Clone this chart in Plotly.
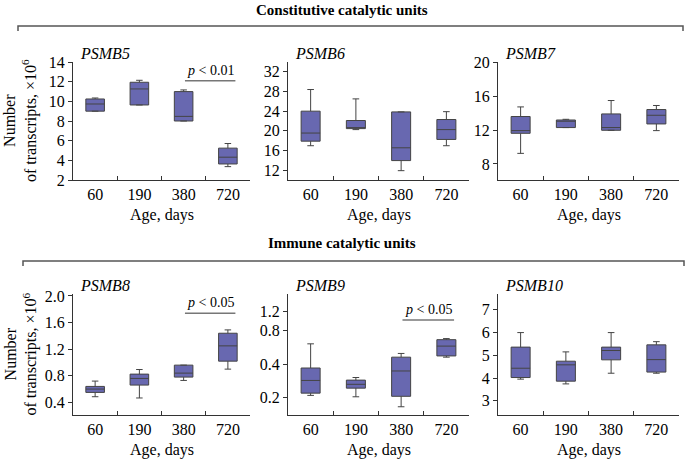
import plotly.graph_objects as go

W, H = 685, 460
ages = ["60", "190", "380", "720"]

# Box statistics: lower whisker, q1, median, q3, upper whisker
psmb5_low = [9.0, 9.63, 8.0, 3.36]
psmb5_q1 = [9.0, 9.63, 8.0, 3.63]
psmb5_med = [9.73, 11.26, 8.47, 4.32]
psmb5_q3 = [10.24, 11.94, 10.99, 5.24]
psmb5_high = [10.34, 12.14, 11.16, 5.71]

psmb6_low = [16.97, 20.25, 11.9, 16.97]
psmb6_q1 = [17.9, 20.45, 13.95, 18.25]
psmb6_med = [19.55, 20.65, 16.55, 20.25]
psmb6_q3 = [24.0, 22.1, 23.85, 22.3]
psmb6_high = [28.4, 26.5, 23.85, 23.9]

psmb7_low = [9.26, 12.32, 12.0, 11.96]
psmb7_q1 = [11.64, 12.32, 12.0, 12.75]
psmb7_med = [11.96, 13.07, 12.32, 13.78]
psmb7_q3 = [13.63, 13.22, 13.94, 14.46]
psmb7_high = [14.77, 13.3, 15.53, 14.94]

psmb8_low = [0.485, 0.466, 0.73, 0.90]
psmb8_q1 = [0.55, 0.66, 0.78, 1.02]
psmb8_med = [0.60, 0.76, 0.84, 1.25]
psmb8_q3 = [0.64, 0.825, 0.96, 1.44]
psmb8_high = [0.72, 0.894, 0.96, 1.49]

psmb9_low = [0.21, 0.204, 0.166, 0.463]
psmb9_q1 = [0.22, 0.244, 0.206, 0.475]
psmb9_med = [0.286, 0.264, 0.348, 0.582]
psmb9_q3 = [0.37, 0.288, 0.463, 0.665]
psmb9_high = [0.61, 0.304, 0.50, 0.68]

psmb10_low = [3.95, 3.74, 4.21, 4.21]
psmb10_q1 = [4.02, 3.86, 4.80, 4.26]
psmb10_med = [4.43, 4.58, 5.21, 4.81]
psmb10_q3 = [5.36, 4.74, 5.36, 5.46]
psmb10_high = [6.0, 5.15, 6.0, 5.60]

# tick labels
t5 = [2, 4, 6, 8, 10, 12, 14]
t6 = [12, 16, 20, 24, 28, 32]
t7 = [8, 12, 16, 20]
t8 = [0.4, 0.8, 1.2, 1.6, 2.0]
t9 = [0.2, 0.4, 0.8, 1.2]
t10 = [3, 4, 5, 6, 7]

panels = [
    dict(name="PSMB5", stats=(psmb5_low, psmb5_q1, psmb5_med, psmb5_q3, psmb5_high), ticks=t5,
         ticktext=[str(v) for v in t5], range=[2, 14], type="linear", col=0, row=0),
    dict(name="PSMB6", stats=(psmb6_low, psmb6_q1, psmb6_med, psmb6_q3, psmb6_high), ticks=t6,
         ticktext=[str(v) for v in t6], range=[10, 34], type="linear", col=1, row=0),
    dict(name="PSMB7", stats=(psmb7_low, psmb7_q1, psmb7_med, psmb7_q3, psmb7_high), ticks=t7,
         ticktext=[str(v) for v in t7], range=[6.1, 20.1], type="linear", col=2, row=0),
    dict(name="PSMB8", stats=(psmb8_low, psmb8_q1, psmb8_med, psmb8_q3, psmb8_high), ticks=t8,
         ticktext=["%.1f" % v for v in t8], range=[0.21, 2.03], type="linear", col=0, row=1),
    dict(name="PSMB9", stats=(psmb9_low, psmb9_q1, psmb9_med, psmb9_q3, psmb9_high), ticks=t9,
         ticktext=["%.1f" % v for v in t9], range=[-0.854, 0.233], type="log", col=1, row=1),
    dict(name="PSMB10", stats=(psmb10_low, psmb10_q1, psmb10_med, psmb10_q3, psmb10_high), ticks=t10,
         ticktext=[str(v) for v in t10], range=[2.37, 7.7], type="linear", col=2, row=1),
]

col_px = [(73, 250), (288, 469), (498, 679)]
row_px = [(62, 180), (294, 415)]

FONT = "Liberation Serif, Times New Roman, serif"
FILL = "#6868B0"
EDGE = "#444444"
AX = "#333333"

fig = go.Figure()
layout = dict(width=W, height=H, margin=dict(l=0, r=0, t=0, b=0, autoexpand=False),
              paper_bgcolor="white", plot_bgcolor="white", showlegend=False,
              font=dict(family=FONT, size=16, color="black"))
annotations = []
shapes = []

def X(px):
    return px / W

def Y(py):
    return 1 - py / H

for i, p in enumerate(panels):
    n = i + 1
    xa = "x" if n == 1 else f"x{n}"
    ya = "y" if n == 1 else f"y{n}"
    low, q1, med, q3, high = p["stats"]
    fig.add_trace(go.Box(
        x=ages, q1=q1, median=med, q3=q3, lowerfence=low, upperfence=high,
        xaxis=xa, yaxis=ya, fillcolor=FILL, line=dict(color=EDGE, width=1),
        width=0.42, whiskerwidth=0.35, boxpoints=False, hoverinfo="skip"))
    x0, x1 = col_px[p["col"]]
    y0, y1 = row_px[p["row"]]
    xkey = "xaxis" if n == 1 else f"xaxis{n}"
    ykey = "yaxis" if n == 1 else f"yaxis{n}"
    layout[xkey] = dict(domain=[X(x0), X(x1)], anchor=ya, type="category",
                        categoryorder="array", categoryarray=ages, range=[-0.5, 3.5],
                        showline=True, linecolor=AX, linewidth=1, showgrid=False,
                        zeroline=False, ticks="inside", ticklen=4, tickcolor=AX,
                        tickson="boundaries", automargin=False,
                        tickfont=dict(size=16, family=FONT))
    layout[ykey] = dict(domain=[Y(y1), Y(y0)], anchor=xa, type=p["type"], range=p["range"],
                        tickvals=p["ticks"], ticktext=p["ticktext"],
                        showline=True, linecolor=AX, linewidth=1, showgrid=False,
                        zeroline=False, ticks="outside", ticklen=4, tickcolor=AX,
                        automargin=False, tickfont=dict(size=16, family=FONT))
    # panel title
    annotations.append(dict(text=f"<i>{p['name']}</i>", xref="paper", yref="paper",
                            x=X(x0 + 5), y=Y(y0 - 9), xanchor="left", yanchor="middle",
                            showarrow=False, font=dict(size=16, family=FONT)))
    # x axis title
    annotations.append(dict(text="Age, days", xref="paper", yref="paper",
                            x=X((x0 + x1) / 2), y=Y(y1 + 35), xanchor="center", yanchor="middle",
                            showarrow=False, font=dict(size=16, family=FONT)))

# y axis titles
for (y0, y1) in row_px:
    annotations.append(dict(text="Number<br>of transcripts, ×10<sup>6</sup>", xref="paper", yref="paper",
                            x=X(21), y=Y((y0 + y1) / 2), xanchor="center", yanchor="middle",
                            textangle=-90, showarrow=False, align="center",
                            font=dict(size=16, family=FONT)))

# significance bars (values in data units)
sig = [("x", "y", 12.1, 12.1, "<i>p</i> < 0.01"),
       ("x4", "y4", 1.74, 1.74, "<i>p</i> < 0.05"),
       ("x5", "y5", 1.0, 0.0, "<i>p</i> < 0.05")]
for xa, ya, yv, ya_ann, txt in sig:
    shapes.append(dict(type="line", xref=xa, yref=ya, x0=2.03, x1=3.17, y0=yv, y1=yv,
                       line=dict(color="#777777", width=1.5)))
    annotations.append(dict(text=txt, xref=xa, yref=ya, x=2.6, y=ya_ann, xanchor="center",
                            yanchor="bottom", yshift=1, showarrow=False,
                            font=dict(size=14, family=FONT)))

# group headers with brackets
groups = [("Constitutive catalytic units", 10, 26, 18, 683),
          ("Immune catalytic units", 243, 261, 23, 684)]
for txt, ty, by, bx0, bx1 in groups:
    annotations.append(dict(text=f"<b>{txt}</b>", xref="paper", yref="paper",
                            x=X(342), y=Y(ty), xanchor="center", yanchor="middle",
                            showarrow=False, font=dict(size=15, family=FONT)))
    shapes.append(dict(type="path", xref="paper", yref="paper",
                       path=f"M {X(bx0)},{Y(by + 5)} L {X(bx0)},{Y(by)} L {X(bx1)},{Y(by)} L {X(bx1)},{Y(by + 5)}",
                       line=dict(color="#555555", width=1.5)))

layout["annotations"] = annotations
layout["shapes"] = shapes
fig.update_layout(**layout)
post = (
    "document.body.style.margin='0';document.body.style.overflow='hidden';"
)
fig.write_html("out.html", config={"displayModeBar": False}, post_script=post)
